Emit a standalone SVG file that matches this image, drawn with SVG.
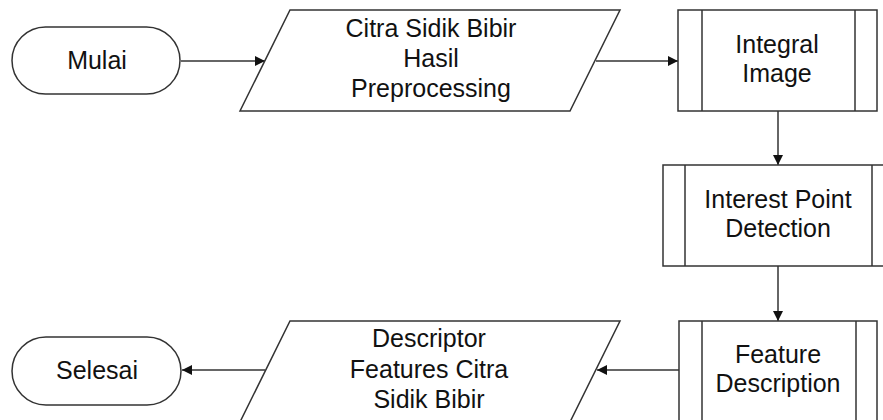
<svg xmlns="http://www.w3.org/2000/svg" width="883" height="420" viewBox="0 0 883 420">
<defs>
<marker id="arr" viewBox="0 0 10 10" refX="10" refY="5" markerWidth="11" markerHeight="10" markerUnits="userSpaceOnUse" orient="auto">
<path d="M0,0 L10,5 L0,10 Z" fill="#111"/>
</marker>
</defs>
<style>
.s{fill:#fff;stroke:#333;stroke-width:1.5}
.t{font-family:"Liberation Sans",Arial,sans-serif;font-size:25px;fill:#111;text-anchor:middle}
.c{fill:none;stroke:#333;stroke-width:1.5;marker-end:url(#arr)}
</style>
<rect width="883" height="420" fill="#fff"/>
<g id="connectors">
<line class="c" x1="181" y1="61" x2="265" y2="61"/>
<line class="c" x1="596" y1="61" x2="678" y2="61"/>
<line class="c" x1="778" y1="111" x2="778" y2="165"/>
<line class="c" x1="778" y1="266" x2="778" y2="321"/>
<line class="c" x1="679" y1="370" x2="597" y2="370"/>
<line class="c" x1="265" y1="370" x2="182" y2="370"/>
</g>
<g id="mulai">
<rect class="s" x="12" y="27" width="168" height="67" rx="33.5"/>
<text class="t" x="97" y="69">Mulai</text>
</g>
<g id="citra">
<polygon class="s" points="290,10 620,10 570,111 240,111"/>
<text class="t" x="431" y="37">Citra Sidik Bibir</text>
<text class="t" x="431" y="67">Hasil</text>
<text class="t" x="431" y="97">Preprocessing</text>
</g>
<g id="integral">
<rect class="s" x="678" y="10" width="199" height="101"/>
<line class="s" x1="702" y1="10" x2="702" y2="111"/>
<line class="s" x1="855" y1="10" x2="855" y2="111"/>
<text class="t" x="777" y="53">Integral</text>
<text class="t" x="777" y="82">Image</text>
</g>
<g id="interest">
<rect class="s" x="663" y="165" width="232" height="101"/>
<line class="s" x1="685" y1="165" x2="685" y2="266"/>
<line class="s" x1="872" y1="165" x2="872" y2="266"/>
<text class="t" x="778" y="208">Interest Point</text>
<text class="t" x="778" y="237">Detection</text>
</g>
<g id="feature">
<rect class="s" x="679" y="321" width="198" height="101"/>
<line class="s" x1="702" y1="321" x2="702" y2="422"/>
<line class="s" x1="856" y1="321" x2="856" y2="422"/>
<text class="t" x="778" y="363">Feature</text>
<text class="t" x="778" y="392">Description</text>
</g>
<g id="descriptor">
<polygon class="s" points="290,321 620,321 570,422 240,422"/>
<text class="t" x="429" y="347">Descriptor</text>
<text class="t" x="429" y="378">Features Citra</text>
<text class="t" x="429" y="408">Sidik Bibir</text>
</g>
<g id="selesai">
<rect class="s" x="12" y="337" width="169" height="68" rx="34"/>
<text class="t" x="97" y="379">Selesai</text>
</g>
</svg>
